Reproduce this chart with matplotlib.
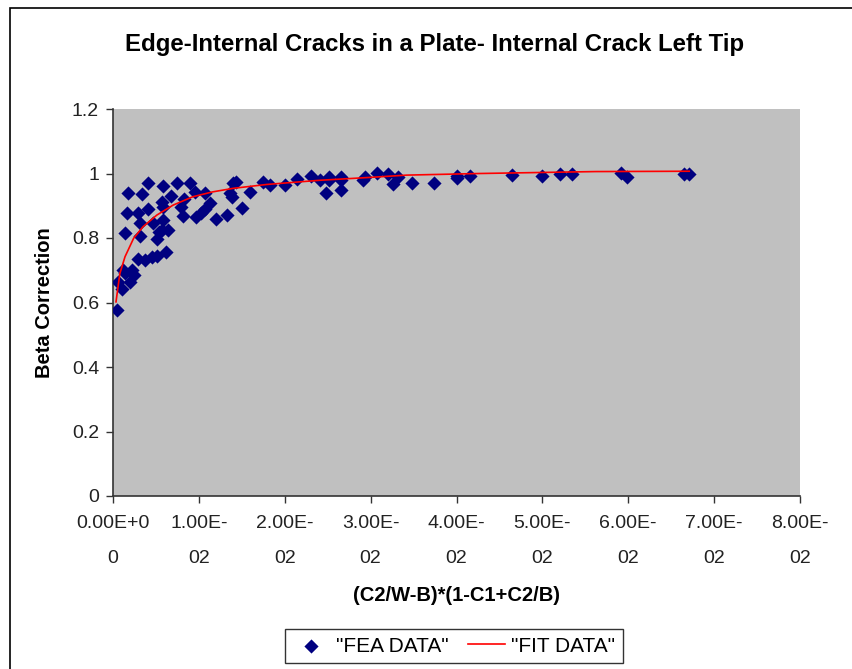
import matplotlib.pyplot as plt
from matplotlib.patches import Rectangle

# FEA data
fea_x = [0.00043, 0.0006, 0.0011, 0.0012, 0.0014, 0.0014, 0.0016, 0.0017, 0.0020, 0.0022,
         0.0024, 0.0029, 0.0029, 0.0031, 0.0032, 0.0034, 0.0037, 0.0041, 0.0041, 0.0045,
         0.0047, 0.0051, 0.0051, 0.0053, 0.0057, 0.0057, 0.0058, 0.0058, 0.0058, 0.0062,
         0.0064, 0.0067, 0.0074, 0.0079, 0.0081, 0.0083, 0.0090, 0.0096, 0.0097, 0.0103,
         0.0107, 0.0107, 0.0113, 0.0120, 0.0133, 0.0136, 0.0138, 0.0140, 0.0143, 0.0150,
         0.0159, 0.0175, 0.0183, 0.0200, 0.0214, 0.0231, 0.0241, 0.0248, 0.0252, 0.0252,
         0.0266, 0.0266, 0.0266, 0.0291, 0.0293, 0.0307, 0.0320, 0.0326, 0.0332, 0.0348,
         0.0374, 0.0400, 0.0400, 0.0416, 0.0465, 0.0500, 0.0520, 0.0535, 0.0592, 0.0598,
         0.0665, 0.0671]
fea_y = [0.577, 0.664, 0.643, 0.700, 0.690, 0.816, 0.879, 0.941, 0.664, 0.700,
         0.685, 0.736, 0.879, 0.845, 0.806, 0.935, 0.731, 0.969, 0.891, 0.741,
         0.845, 0.744, 0.798, 0.819, 0.912, 0.826, 0.961, 0.896, 0.855, 0.757,
         0.824, 0.931, 0.972, 0.896, 0.869, 0.920, 0.969, 0.943, 0.865, 0.876,
         0.938, 0.891, 0.907, 0.860, 0.871, 0.938, 0.927, 0.969, 0.975, 0.894,
         0.943, 0.974, 0.964, 0.964, 0.984, 0.992, 0.979, 0.938, 0.990, 0.980,
         0.990, 0.980, 0.948, 0.980, 0.990, 1.002, 1.000, 0.966, 0.988, 0.969,
         0.972, 0.992, 0.985, 0.992, 0.995, 0.992, 0.998, 1.000, 1.002, 0.990,
         0.998, 0.998]

# fitted curve
fit_x = [0.00035, 0.0008, 0.0014, 0.0024, 0.0035, 0.0051, 0.0070, 0.0093, 0.0116, 0.0140,
         0.0179, 0.0217, 0.0241, 0.0300, 0.0342, 0.0427, 0.0562, 0.0671]
fit_y = [0.602, 0.690, 0.742, 0.799, 0.835, 0.871, 0.902, 0.928, 0.943, 0.954,
         0.966, 0.974, 0.979, 0.988, 0.995, 1.000, 1.006, 1.007]

xticks = [0.0, 0.01, 0.02, 0.03, 0.04, 0.05, 0.06, 0.07, 0.08]
xtick_labels = ['0.00E+0\n0'] + ['%d.00E-\n02' % i for i in range(1, 9)]
yticks = [0, 0.2, 0.4, 0.6, 0.8, 1, 1.2]
ytick_labels = ['0', '0.2', '0.4', '0.6', '0.8', '1', '1.2']

plt.rcParams['font.family'] = ['Liberation Sans', 'DejaVu Sans']

fig = plt.figure(figsize=(8.52, 6.69), dpi=100)
ax = fig.add_axes([113 / 852, 1 - 496 / 669, 687 / 852, 387 / 669])
ax.set_facecolor('#C0C0C0')

ax.scatter(fea_x, fea_y, marker='D', s=52, color='#000080', linewidths=0,
           label='"FEA DATA"', zorder=3)
ax.plot(fit_x, fit_y, color='#FF0000', linewidth=1.2, label='"FIT DATA"', zorder=4)

ax.set_xlim(0, 0.08)
ax.set_ylim(0, 1.2)
ax.set_xticks(xticks)
ax.set_xticklabels(xtick_labels, fontsize=14, linespacing=2.35, color='#222222')
ax.set_yticks(yticks)
ax.set_yticklabels(ytick_labels, fontsize=14, color='#222222')
ax.tick_params(axis='both', direction='out', length=5, width=1, color='#333333')
ax.tick_params(axis='x', pad=9)
ax.tick_params(axis='y', pad=5)

for side in ['top', 'right']:
    ax.spines[side].set_visible(False)
for side in ['left', 'bottom']:
    ax.spines[side].set_color('#333333')
    ax.spines[side].set_linewidth(1.2)

ax.set_xlabel('(C2/W-B)*(1-C1+C2/B)', fontsize=14.5, fontweight='bold', labelpad=14)
ax.set_ylabel('Beta Correction', fontsize=14.5, fontweight='bold', labelpad=13)

fig.text(435 / 852, 1 - 45 / 669, 'Edge-Internal Cracks in a Plate- Internal Crack Left Tip',
         fontsize=17.3, fontweight='bold', ha='center', va='center')

leg = fig.legend(loc='center', bbox_to_anchor=(454 / 852, 1 - 646 / 669), ncol=2,
                 fontsize=15, frameon=True, fancybox=False, handlelength=1.8,
                 columnspacing=0.9, handletextpad=0.3, borderpad=0.35)
leg.get_frame().set_edgecolor('black')
leg.get_frame().set_linewidth(1.0)

# chart-area border
fig.patches.append(Rectangle((10 / 852, -0.05), 1.1, 1 - 8 / 669 + 0.05,
                             transform=fig.transFigure, fill=False,
                             edgecolor='black', linewidth=1.2))

fig.savefig('out.png', dpi=100)
